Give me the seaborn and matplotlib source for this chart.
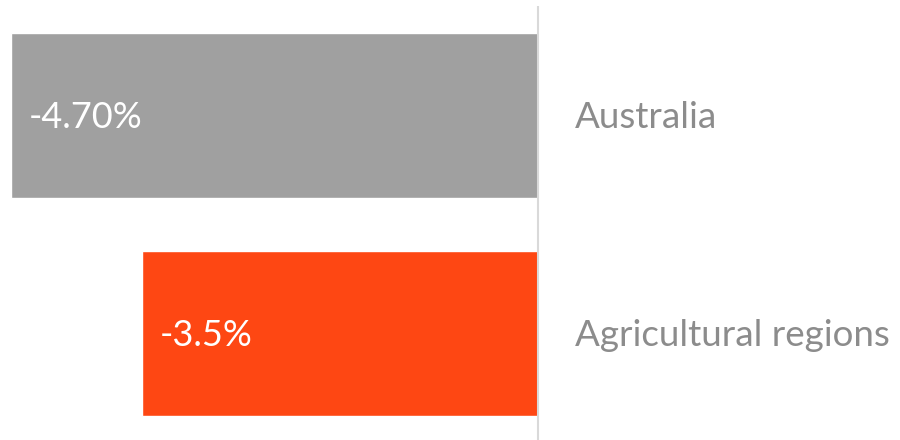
import matplotlib
matplotlib.use('Agg')
import matplotlib.pyplot as plt
import seaborn as sns
import pandas as pd

regions = ['Australia', 'Agricultural regions']
change = [-4.70, -3.53]
value_labels = ['-4.70%', '-3.5%']
colors = ['#a0a0a0', '#fe4713']

df = pd.DataFrame({'region': regions, 'change': change})

sns.set_style('white')
plt.rcParams['font.family'] = ['Lato', 'DejaVu Sans']

fig = plt.figure(figsize=(9, 4.4), dpi=100)
ax = fig.add_axes([0, 0, 1, 434 / 440])

sns.barplot(data=df, x='change', y='region', hue='region', palette=colors,
            orient='h', width=0.757, legend=False, ax=ax, saturation=1)

ax.set_xlim(-4.798, 3.228)
ax.set_ylim(1.489, -0.502)
ax.axvline(0, color='#d9d9d9', linewidth=1.5)

for i, (v, lab) in enumerate(zip(change, value_labels)):
    ax.text(v + 0.155, i + 0.01, lab, color='white', fontsize=26, va='center', ha='left')
    ax.text(0.33, i + 0.01, regions[i], color='#8c8c8c', fontsize=26.5, va='center', ha='left')

ax.set_xticks([])
ax.set_yticks([])
ax.set_xlabel('')
ax.set_ylabel('')
sns.despine(ax=ax, left=True, bottom=True)

fig.savefig('out.png', dpi=100)
